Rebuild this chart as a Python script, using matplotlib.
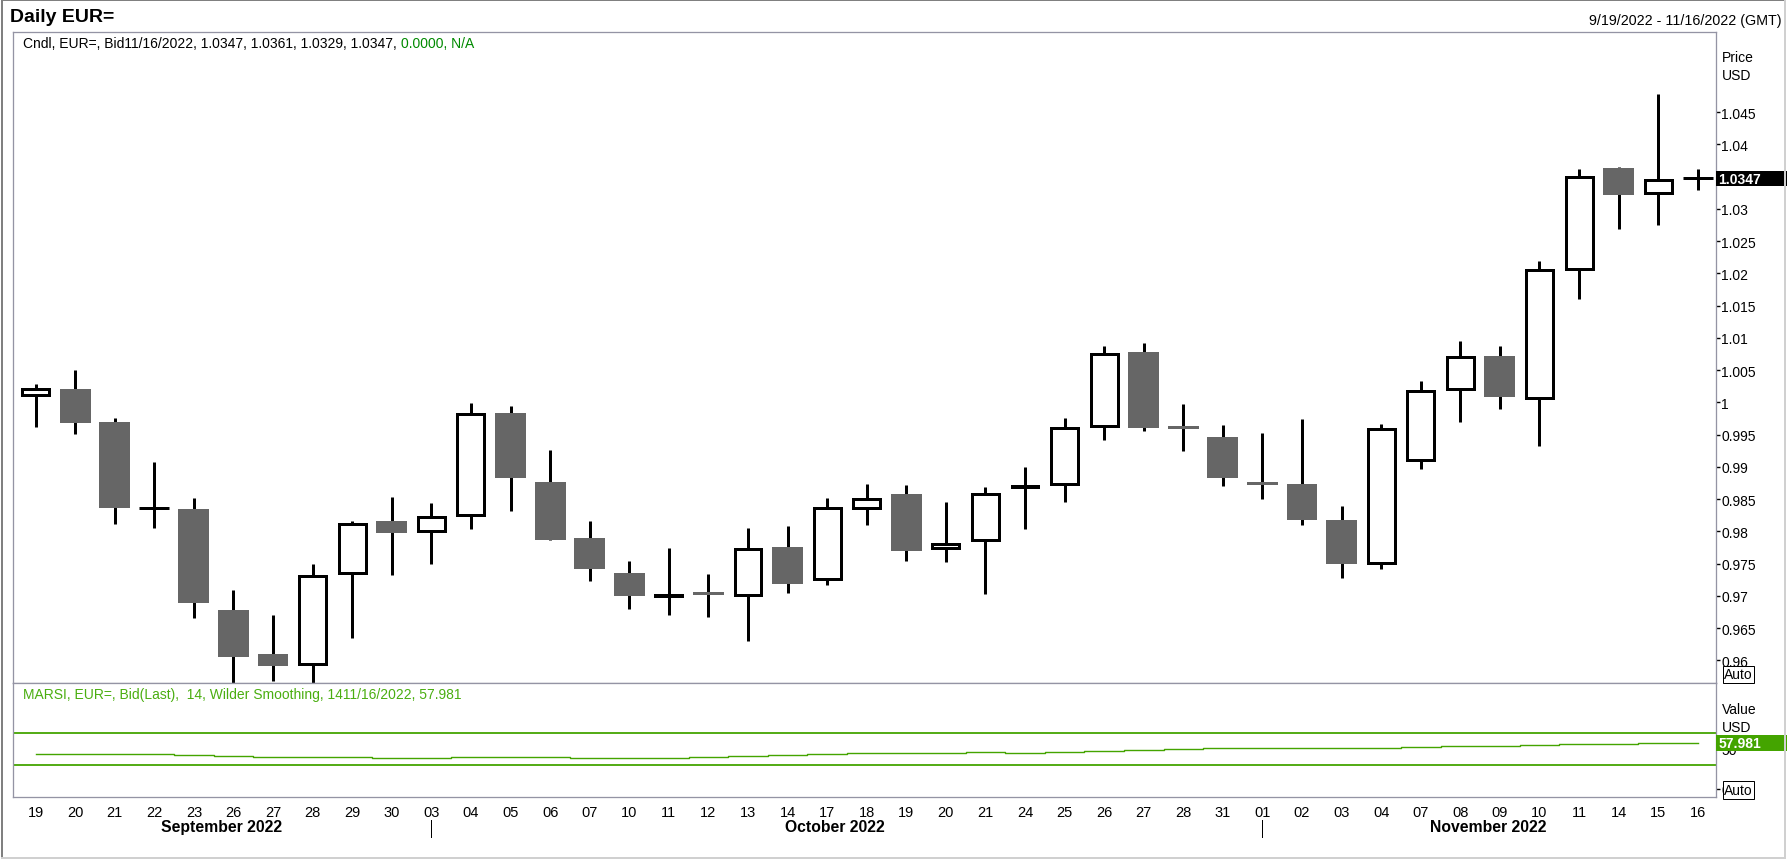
import matplotlib.pyplot as plt
from matplotlib.patches import Rectangle
from matplotlib.lines import Line2D
from matplotlib.transforms import blended_transform_factory

plt.rcParams['font.family'] = ['Liberation Sans', 'DejaVu Sans']

# trading days shown on the axis
days = ['19', '20', '21', '22', '23', '26', '27', '28', '29', '30',
        '03', '04', '05', '06', '07', '10', '11', '12', '13', '14', '17',
        '18', '19', '20', '21', '24', '25', '26', '27', '28', '31',
        '01', '02', '03', '04', '07', '08', '09', '10', '11', '14', '15', '16']
month_names = ['September 2022', 'October 2022', 'November 2022']
day_month = [0] * 10 + [1] * 21 + [2] * 12

opens = [1.0011, 1.0021, 0.9970, 0.9836, 0.9834, 0.9678, 0.9610, 0.9594, 0.9735, 0.9816,
         0.9800, 0.9826, 0.9983, 0.9876, 0.9790, 0.9735, 0.9700, 0.9706, 0.9702, 0.9776,
         0.9726, 0.9837, 0.9858, 0.9774, 0.9786, 0.9869, 0.9873, 0.9964, 1.0078, 0.9963,
         0.9946, 0.9877, 0.9873, 0.9818, 0.9751, 0.9910, 1.0021, 1.0072, 1.0006, 1.0206,
         1.0363, 1.0324, 1.0347]
highs = [1.0028, 1.0050, 0.9976, 0.9907, 0.9852, 0.9709, 0.9670, 0.9750, 0.9816, 0.9853,
         0.9844, 0.9999, 0.9994, 0.9926, 0.9816, 0.9754, 0.9774, 0.9734, 0.9805, 0.9808,
         0.9852, 0.9874, 0.9872, 0.9845, 0.9869, 0.9900, 0.9976, 1.0087, 1.0092, 0.9997,
         0.9965, 0.9952, 0.9974, 0.9839, 0.9966, 1.0033, 1.0095, 1.0087, 1.0219, 1.0362,
         1.0364, 1.0478, 1.0361]
lows = [0.9962, 0.9951, 0.9811, 0.9805, 0.9666, 0.9536, 0.9568, 0.9536, 0.9634, 0.9733,
        0.9750, 0.9803, 0.9832, 0.9786, 0.9723, 0.9680, 0.9671, 0.9667, 0.9630, 0.9705,
        0.9717, 0.9810, 0.9754, 0.9753, 0.9703, 0.9804, 0.9846, 0.9941, 0.9955, 0.9924,
        0.9871, 0.9850, 0.9810, 0.9728, 0.9741, 0.9897, 0.9970, 0.9990, 0.9933, 1.0160,
        1.0268, 1.0275, 1.0329]
closes = [1.0020, 0.9968, 0.9836, 0.9836, 0.9689, 0.9606, 0.9592, 0.9731, 0.9812, 0.9798,
          0.9822, 0.9982, 0.9882, 0.9787, 0.9741, 0.9700, 0.9701, 0.9705, 0.9772, 0.9719,
          0.9836, 0.9850, 0.9770, 0.9781, 0.9858, 0.9870, 0.9961, 1.0075, 0.9961, 0.9962,
          0.9882, 0.9876, 0.9817, 0.9750, 0.9958, 1.0017, 1.0070, 1.0009, 1.0205, 1.0349,
          1.0322, 1.0344, 1.0347]
rsi = [43.3, 43.3, 43.3, 43.3, 42.1, 40.8, 39.6, 39.6, 39.6, 38.3,
       38.3, 39.6, 39.6, 39.6, 38.3, 38.3, 38.3, 39.6, 40.8, 42.1,
       43.3, 44.6, 44.6, 44.6, 45.8, 44.6, 45.8, 47.1, 48.3, 49.6,
       50.8, 50.8, 50.8, 50.8, 50.8, 52.1, 53.3, 53.3, 54.6, 55.8,
       55.8, 57.1, 57.981]
last_price = 1.0347
last_rsi = 57.981

W, H = 1788, 862
PX = 72 / 100  # points per pixel
GREEN = '#44a400'
FRAME = '#9494a4'

fig = plt.figure(figsize=(W / 100, H / 100), dpi=100)
fig.patch.set_facecolor('white')

left, right = 13 / W, 1716 / W
ax = fig.add_axes([left, 1 - 684 / H, right - left, (684 - 33) / H])
ax2 = fig.add_axes([left, 1 - 798 / H, right - left, (798 - 684) / H])

xlim = (-0.571, 42.46)

# candles: up = white body, down = grey body, flat = black dash
for i in range(len(days)):
    o, h, l, c = opens[i], highs[i], lows[i], closes[i]
    ax.vlines(i, l, h, color='black', lw=3 * PX, zorder=2)
    if c > o:
        w = 0.68
        ax.add_patch(Rectangle((i - w / 2, o), w, c - o, facecolor='white',
                               edgecolor='black', lw=3 * PX, zorder=3))
    elif c < o:
        w = 0.78
        hgt = max(o - c, 0.00045)
        ax.add_patch(Rectangle((i - w / 2, o - hgt), w, hgt, facecolor='#666666',
                               edgecolor='none', zorder=3))
    else:
        ax.hlines(o, i - 0.38, i + 0.38, color='black', lw=3 * PX, zorder=3)

ax.set_xlim(*xlim)
ax.set_ylim(0.9565, 1.0574)
yt = [0.96 + 0.005 * k for k in range(18)]
ax.set_yticks(yt)
ax.set_yticklabels([('%.3f' % v).rstrip('0').rstrip('.') for v in yt])
for lab in ax.get_yticklabels():
    if lab.get_text() == '1':
        lab.set_fontweight('bold')
ax.yaxis.tick_right()
ax.tick_params(axis='y', length=4 * PX, width=1, pad=1, labelsize=10, colors='black')
ax.set_xticks([])

# RSI panel
ax2.plot(range(len(rsi)), rsi, drawstyle='steps-mid', color=GREEN, lw=1.4 * PX)
ax2.axhline(70, color=GREEN, lw=1.8 * PX)
ax2.axhline(30, color=GREEN, lw=1.8 * PX)
ax2.set_xlim(*xlim)
ax2.set_ylim(-10, 132.5)
ax2.set_yticks([0, 50])
ax2.set_yticklabels(['0', '50'])
ax2.yaxis.tick_right()
ax2.tick_params(axis='y', length=4 * PX, width=1, pad=1, labelsize=10)
ax2.set_xticks(range(len(days)))
ax2.set_xticklabels(days)
ax2.tick_params(axis='x', length=0, pad=8 * PX, labelsize=10.5)

for a in (ax, ax2):
    for s in a.spines.values():
        s.set_color(FRAME)
        s.set_linewidth(1.3 * PX)

# month labels and separators
xt = ax2.get_xaxis_transform()
for m, name in enumerate(month_names):
    idx = [i for i, d in enumerate(day_month) if d == m]
    ax2.text(sum(idx) / len(idx) + 0.2, -0.263, name, transform=xt, ha='center',
             va='center', fontsize=11.3, fontweight='bold', clip_on=False)
    if m > 0:
        ax2.add_line(Line2D([idx[0], idx[0]], [-0.2, -0.35], transform=xt, color='black',
                            lw=1 * PX, clip_on=False))

# value labels on the right axis
bt = blended_transform_factory(ax.transAxes, ax.transData)
ax.add_patch(Rectangle((1.0, last_price - 0.00115), 0.0417, 0.0023, transform=bt,
                       facecolor='black', clip_on=False, zorder=5))
ax.text(1.0015, last_price - 0.0001, '%.4f' % last_price, transform=bt, color='white',
        fontsize=10, fontweight='bold', va='center', ha='left', zorder=6, clip_on=False)

bt2 = blended_transform_factory(ax2.transAxes, ax2.transData)
ax2.add_patch(Rectangle((1.0, last_rsi - 10.5), 0.0417, 20, transform=bt2,
                        facecolor=GREEN, clip_on=False, zorder=5))
ax2.text(1.0015, last_rsi - 0.5, '%.3f' % last_rsi, transform=bt2, color='white',
         fontsize=10, fontweight='bold', va='center', ha='left', zorder=6, clip_on=False)

# headers and side texts
fig.text(10 / W, 1 - 17 / H, 'Daily EUR=', fontsize=14, fontweight='bold', va='center')
fig.text(1782 / W, 1 - 21 / H, '9/19/2022 - 11/16/2022 (GMT)', fontsize=10.3,
         ha='right', va='center')
t1 = fig.text(23 / W, 1 - 44 / H, 'Cndl, EUR=, Bid11/16/2022, 1.0347, 1.0361, 1.0329, 1.0347, ',
              fontsize=10, va='center')
ax.annotate('0.0000, N/A', xy=(1, 0), xycoords=t1, va='bottom', fontsize=10,
            color='#008a00', annotation_clip=False)
fig.text(23 / W, 1 - 695 / H, 'MARSI, EUR=, Bid(Last),  14, Wilder Smoothing, 1411/16/2022, 57.981',
         fontsize=10, color='#4aae10', va='center')

for y, s in [(58, 'Price'), (76, 'USD'), (710, 'Value'), (728, 'USD')]:
    fig.text(1722 / W, 1 - y / H, s, fontsize=10, va='center')
for y in (675.5, 791):
    fig.text(1738.5 / W, 1 - y / H, 'Auto', fontsize=10, ha='center', va='center',
             bbox=dict(boxstyle='square,pad=0.12', facecolor='white', edgecolor='black',
                       lw=1 * PX))

# outer frame
fig.add_artist(Line2D([1.5 / W, 1.5 / W], [3 / H, 1 - 1 / H], color='#808080', lw=2 * PX))
fig.add_artist(Line2D([1.5 / W, 1785 / W], [1 - 1 / H, 1 - 1 / H], color='#808080', lw=2 * PX))
fig.add_artist(Line2D([1785 / W, 1785 / W], [3 / H, 1 - 1 / H], color='#d0d0d0', lw=2 * PX))
fig.add_artist(Line2D([1.5 / W, 1785 / W], [3 / H, 3 / H], color='#d0d0d0', lw=2 * PX))

fig.savefig('out.png', dpi=100)
